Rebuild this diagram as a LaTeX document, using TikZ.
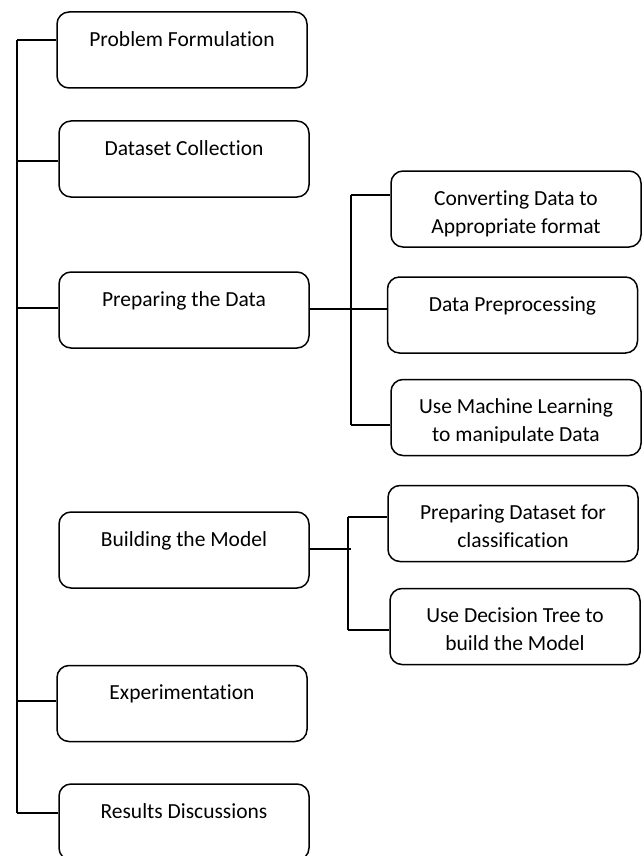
\documentclass[tikz,border=0pt]{standalone}
\usepackage{fontspec}
\setmainfont{Carlito}[Ligatures={NoCommon}]
\begin{document}
\begin{tikzpicture}[x=1pt,y=-1pt,
  box/.style={draw=black, line width=1.5pt, rounded corners=12pt, minimum width=250pt, minimum height=76pt, inner sep=0pt},
  txt/.style={anchor=base, align=center, inner sep=0pt, font=\fontsize{21.5pt}{28pt}\selectfont},
  conn/.style={draw=black, line width=1.6pt}]
\useasboundingbox (0,0) rectangle (643,856);
% left column boxes
\node[box] (b1) at (182,50) {};
\node[box] (b2) at (184,159) {};
\node[box] (b3) at (184,310) {};
\node[box] (b7) at (184,550) {};
\node[box] (b10) at (182,703.5) {};
\node[box] (b11) at (184,822) {};
% right boxes
\node[box] (b4) at (516,209) {};
\node[box] (b5) at (512.5,315) {};
\node[box] (b6) at (516,417.5) {};
\node[box] (b8) at (513,523.5) {};
\node[box] (b9) at (515,626.5) {};
% texts (base anchor of a two-line node is its last line)
\node[txt] (t1) at ([yshift=-35pt]b1.north) {Problem Formulation};
\node[txt] (t2) at ([yshift=-35pt]b2.north) {Dataset Collection};
\node[txt] (t3) at ([yshift=-35pt]b3.north) {Preparing the Data};
\node[txt] (t7) at ([yshift=-35pt]b7.north) {Building the Model};
\node[txt] (t10) at ([yshift=-35pt]b10.north) {Experimentation};
\node[txt] (t11) at ([yshift=-35pt]b11.north) {Results Discussions};
\begin{scope}
\clip ([xshift=-5pt]b4.north west) rectangle ([xshift=5pt,yshift=10pt]b4.south east);
\node[txt] (t4) at ([yshift=-63pt]b4.north) {Converting Data to\\Appropriate format};
\end{scope}
\node[txt] (t5) at ([yshift=-35pt]b5.north) {Data Preprocessing};
\begin{scope}
\clip ([xshift=-5pt]b6.north west) rectangle ([xshift=5pt,yshift=14pt]b6.south east);
\node[txt] (t6) at ([yshift=-63pt]b6.north) {Use Machine Learning\\to manipulate Data};
\end{scope}
\node[txt] (t8) at ([yshift=-63pt]b8.north) {Preparing Dataset for\\classification};
\node[txt] (t9) at ([yshift=-63pt]b9.north) {Use Decision Tree to\\build the Model};
% trunk
\coordinate (j1) at (17,40);
\coordinate (j2) at (17,161);
\coordinate (j3) at (17,308);
\coordinate (j10) at (17,701);
\coordinate (j11) at (17,813);
\draw[conn] (j1) -- (j11);
\draw[conn] (j1) -- (b1.west |- j1);
\draw[conn] (j2) -- (b2.west |- j2);
\draw[conn] (j3) -- (b3.west |- j3);
\draw[conn] (j10) -- (b10.west |- j10);
\draw[conn] (j11) -- (b11.west |- j11);
% sub-tree 1
\coordinate (s1top) at (351,195);
\coordinate (s1bot) at (351,425);
\coordinate (m1) at (351,309);
\draw[conn] (s1top) -- (s1bot);
\draw[conn] (s1top) -- (b4.west |- s1top);
\draw[conn] (b3.east |- m1) -- (b5.west |- m1);
\draw[conn] (s1bot) -- (b6.west |- s1bot);
% sub-tree 2
\coordinate (s2top) at (348,517);
\coordinate (s2bot) at (348,630);
\coordinate (m2) at (351,549);
\draw[conn] (s2top) -- (s2bot);
\draw[conn] (b7.east |- m2) -- (m2);
\draw[conn] (s2top) -- (b8.west |- s2top);
\draw[conn] (s2bot) -- (b9.west |- s2bot);
\end{tikzpicture}
\end{document}
